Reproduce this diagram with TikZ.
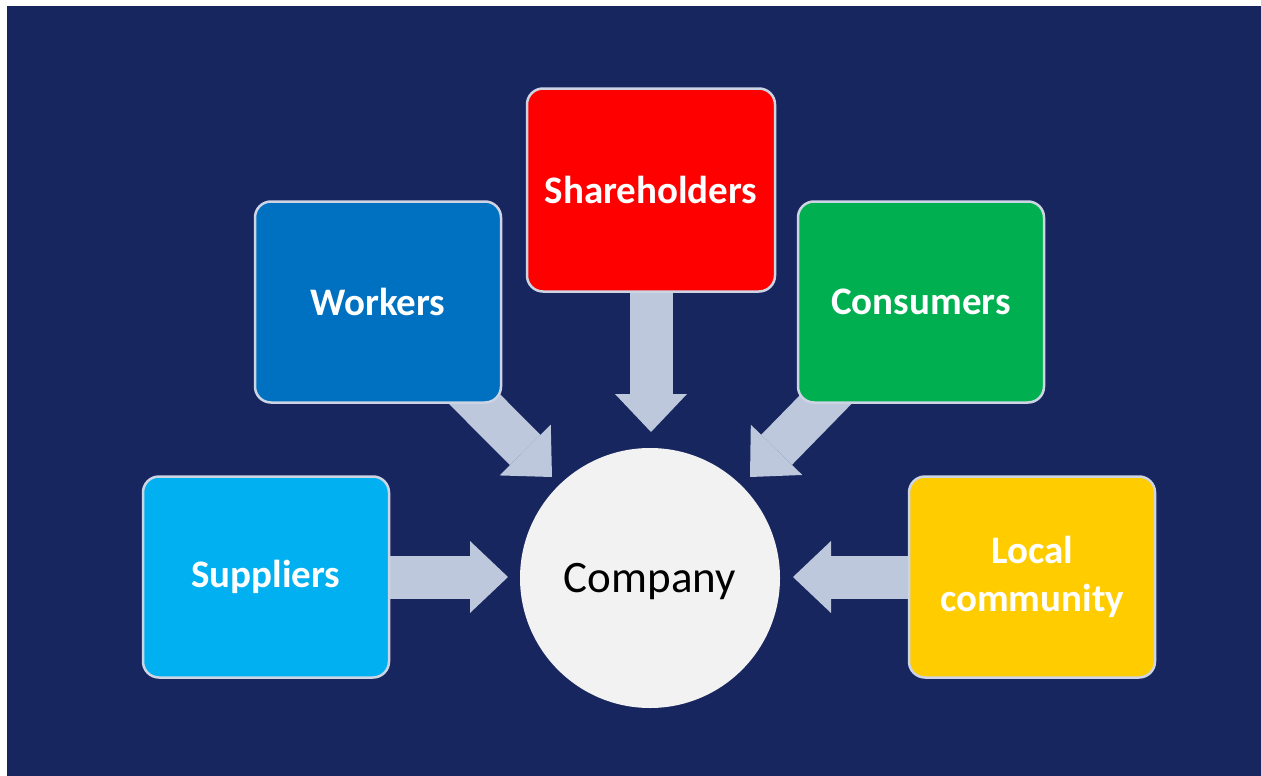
\documentclass[tikz,border=0pt]{standalone}
\usepackage{fontspec}
\setmainfont{Carlito}
\usetikzlibrary{arrows.meta,backgrounds}
\definecolor{navy}{RGB}{23,38,94}
\definecolor{arrowc}{RGB}{190,200,221}
\definecolor{boxedge}{RGB}{205,212,228}
\definecolor{cred}{RGB}{255,0,0}
\definecolor{cblue}{RGB}{0,112,192}
\definecolor{cgreen}{RGB}{0,176,80}
\definecolor{clight}{RGB}{0,176,240}
\definecolor{cyellow}{RGB}{255,204,0}
\definecolor{ccircle}{RGB}{242,242,242}
\newcommand{\boxfont}{\fontsize{39}{48}\selectfont\bfseries}
\tikzset{
  stakebox/.style={draw=boxedge, line width=2.5pt, rounded corners=16pt,
    minimum width=246pt, minimum height=201pt, text=white, font=\boxfont,
    align=center, inner sep=0pt},
  fatarrow/.style={draw=arrowc, line width=43pt,
    -{Triangle[width=72pt,length=38pt,line width=0pt]}},
}
\begin{document}
\begin{tikzpicture}[x=1pt,y=-1pt]
\useasboundingbox (0,0) rectangle (1261,776);
% nodes
\node[stakebox, fill=cred, minimum width=248pt, minimum height=203pt] (sha) at (651,190) {Shareholders};
\node[stakebox, fill=cblue] (wor) at (378,302) {Workers};
\node[stakebox, fill=cgreen] (con) at (921,302) {Consumers};
\node[stakebox, fill=clight] (sup) at (266,577) {Suppliers};
\node[stakebox, fill=cyellow] (loc) at (1032,577) {Local\\community};
\node[circle, fill=ccircle, minimum size=260pt, inner sep=0pt, text depth=0pt,
  font=\fontsize{45}{54}\selectfont, text=black] (comp) at (650,578) {Company};
\coordinate (tsha) at (651,432);
\coordinate (twor) at (552,477);
\coordinate (tcon) at (750,477);
\coordinate (tsup) at (508,577);
\coordinate (tloc) at (793,577);
\begin{pgfonlayer}{background}
  \fill[white] (0,0) rectangle (1261,776);
  \fill[navy] (7,6) rectangle (1261,776);
  \draw[fatarrow] (sha.center) -- (tsha);
  \draw[fatarrow] (wor.center) -- (twor);
  \draw[fatarrow] (con.center) -- (tcon);
  \draw[fatarrow] (sup.center) -- (tsup);
  \draw[fatarrow] (loc.center) -- (tloc);
\end{pgfonlayer}
\end{tikzpicture}
\end{document}
